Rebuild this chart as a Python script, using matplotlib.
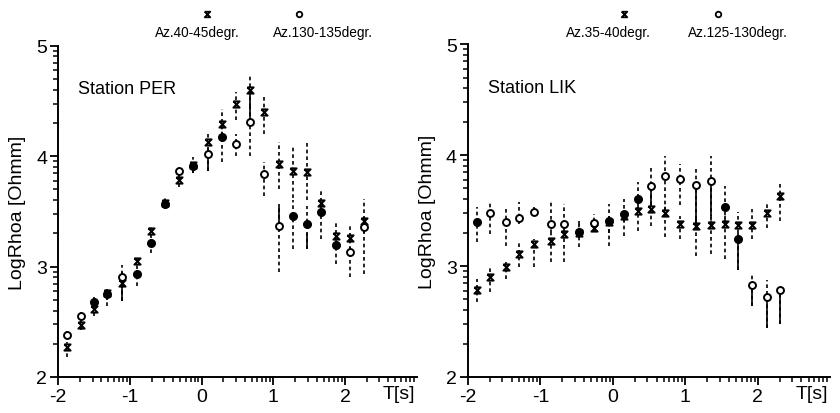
import matplotlib.pyplot as plt
import numpy as np
from matplotlib.path import Path

plt.rcParams['font.family'] = ['Liberation Sans', 'DejaVu Sans']

# --- Station PER ---
per_T = [-1.88, -1.69, -1.50, -1.32, -1.11, -0.90, -0.71, -0.51, -0.31, -0.12, 0.09,
         0.28, 0.48, 0.67, 0.87, 1.08, 1.27, 1.47, 1.66, 1.87, 2.07, 2.26]
# Az.40-45degr. (cross)
per_a = [2.27, 2.47, 2.62, 2.76, 2.85, 3.05, 3.32, 3.58, 3.78, 3.92, 4.13,
         4.29, 4.47, 4.60, 4.40, 3.93, 3.87, 3.86, 3.58, 3.28, 3.26, 3.41]
per_a_lo = [2.18, 2.43, 2.55, 2.64, 2.69, 2.98, 3.26, 3.52, 3.72, 3.85, 4.05,
            4.18, 4.33, 4.45, 4.20, 3.70, 3.62, 3.60, 3.47, 3.18, 3.15, 3.30]
per_a_hi = [2.32, 2.52, 2.68, 2.80, 3.01, 3.10, 3.37, 3.62, 3.84, 3.99, 4.20,
            4.43, 4.58, 4.73, 4.54, 4.13, 4.10, 4.12, 3.70, 3.41, 3.39, 3.61]
# Az.130-135degr. (circle)
per_b = [2.38, 2.555, 2.68, 2.75, 2.905, 2.93, 3.21, 3.57, 3.87, 3.91, 4.02,
         4.17, 4.11, 4.31, 3.84, 3.37, 3.46, 3.39, 3.49, 3.20, 3.13, 3.36]
per_b_lo = [2.34, 2.52, 2.63, 2.70, 2.69, 2.82, 3.12, 3.52, 3.80, 3.85, 3.87,
            3.95, 4.00, 4.00, 3.64, 2.95, 3.16, 3.16, 3.25, 3.02, 2.91, 2.93]
per_b_hi = [2.42, 2.59, 2.72, 2.79, 2.95, 2.97, 3.25, 3.62, 3.92, 3.96, 4.08,
            4.25, 4.20, 4.45, 3.95, 3.55, 3.60, 3.55, 3.55, 3.25, 3.20, 3.45]
per_b_filled = [False, False, True, True, False, True, True, True, False, True, False,
                True, False, False, False, False, True, True, True, True, False, False]
per_solid_idx = [4, 10, 13, 15, 17]
per_solid_lo = [2.69, 3.87, 4.33, 3.39, 3.16]
per_solid_hi = [2.90, 4.00, 4.58, 3.57, 3.30]

# --- Station LIK ---
lik_T = [-1.88, -1.70, -1.48, -1.30, -1.09, -0.86, -0.68, -0.47, -0.26, -0.06, 0.15,
         0.34, 0.53, 0.72, 0.92, 1.14, 1.35, 1.54, 1.73, 1.92, 2.13, 2.31]
# Az.35-40degr. (cross)
lik_a = [2.78, 2.90, 2.99, 3.11, 3.20, 3.23, 3.29, 3.30, 3.34, 3.40, 3.45,
         3.50, 3.51, 3.48, 3.38, 3.36, 3.37, 3.38, 3.37, 3.37, 3.48, 3.63]
lik_a_lo = [2.68, 2.77, 2.88, 2.99, 2.99, 3.04, 3.04, 3.17, 3.31, 3.18, 3.27,
            3.32, 3.36, 3.26, 3.24, 3.09, 3.11, 3.06, 3.30, 3.24, 3.34, 3.41]
lik_a_hi = [2.88, 3.00, 3.05, 3.22, 3.24, 3.30, 3.33, 3.38, 3.38, 3.45, 3.50,
            3.55, 3.56, 3.55, 3.45, 3.42, 3.45, 3.45, 3.49, 3.51, 3.58, 3.77]
# Az.125-130degr. (circle)
lik_b = [3.40, 3.48, 3.40, 3.43, 3.49, 3.38, 3.38, 3.31, 3.39, 3.41, 3.47,
         3.60, 3.72, 3.81, 3.78, 3.73, 3.77, 3.53, 3.24, 2.83, 2.72, 2.78]
lik_b_lo = [3.22, 3.29, 3.18, 3.38, 3.45, 3.30, 3.32, 3.25, 3.34, 3.30, 3.40,
            3.50, 3.55, 3.50, 3.55, 3.36, 3.37, 3.40, 2.96, 2.64, 2.44, 2.48]
lik_b_hi = [3.53, 3.58, 3.53, 3.58, 3.53, 3.58, 3.56, 3.41, 3.47, 3.56, 3.60,
            3.76, 3.89, 3.99, 3.92, 3.90, 3.99, 3.72, 3.30, 2.93, 2.87, 2.80]
lik_b_filled = [True, False, False, False, False, False, False, True, False, True, True,
                True, False, False, False, False, False, True, True, False, False, False]
lik_solid_idx = [11, 12, 15, 16, 18, 19, 20, 21]
lik_solid_lo = [3.50, 3.55, 3.36, 3.45, 2.96, 2.64, 2.44, 2.48]
lik_solid_hi = [3.60, 3.70, 3.73, 3.75, 3.24, 2.80, 2.70, 2.76]

# hourglass-like cross marker used in the original
cross = Path([(-1, 1), (1, 1), (-1, -1), (1, -1), (-1, 1)],
             [Path.MOVETO, Path.LINETO, Path.LINETO, Path.LINETO, Path.LINETO])

fig = plt.figure(figsize=(8.4, 4.14), dpi=100)
ax1 = fig.add_axes([0.0694, 0.087, 0.4268, 0.800])
ax2 = fig.add_axes([0.557, 0.087, 0.4315, 0.804])


def draw_panel(ax, T, a, a_lo, a_hi, b, b_lo, b_hi, b_filled, s_idx, s_lo, s_hi, station):
    T = np.array(T)
    dash = (0, (2.2, 1.8))
    ax.vlines(T, a_lo, a_hi, colors='black', linewidth=1.2, linestyles=dash)
    ax.vlines(T, b_lo, b_hi, colors='black', linewidth=1.2, linestyles=dash)
    ax.vlines(T[s_idx], s_lo, s_hi, colors='black', linewidth=1.2)
    ax.plot(T, a, linestyle='none', marker=cross, ms=4.5, mew=1.4,
            mec='black', mfc='none')
    fill = np.array(b_filled)
    b = np.array(b)
    ax.plot(T[~fill], b[~fill], linestyle='none', marker='o', ms=5, mew=1.4,
            mec='black', mfc='white')
    ax.plot(T[fill], b[fill], linestyle='none', marker='o', ms=5.5, mew=1.0,
            mec='black', mfc='black')

    ax.set_xlim(-2, 3.0)
    ax.set_ylim(2, 5)
    ax.spines['top'].set_visible(False)
    ax.spines['right'].set_visible(False)
    ax.spines['left'].set_linewidth(1.4)
    ax.spines['bottom'].set_linewidth(1.4)
    ax.set_xticks([-2, -1, 0, 1, 2])
    ax.set_xticklabels(['-2', '-1', '0', '1', '2'])
    ax.set_yticks([2, 3, 4, 5])
    minor_x = [d + np.log10(k) for d in range(-2, 3) for k in range(2, 10)]
    minor_y = [d + np.log10(k) for d in range(2, 5) for k in range(2, 10)]
    ax.set_xticks(minor_x, minor=True)
    ax.set_yticks(minor_y, minor=True)
    ax.tick_params(which='major', direction='out', length=6, width=1.3,
                   labelsize=14, pad=2)
    ax.tick_params(which='minor', direction='out', length=3.5, width=1.1)
    ax.set_ylabel('LogRhoa [Ohmm]', fontsize=14, labelpad=7)
    ax.text(0.995, -0.05, 'T[s]', transform=ax.transAxes, ha='right', va='center',
            fontsize=14)
    ax.text(0.055, 0.87, station, transform=ax.transAxes, fontsize=13,
            ha='left', va='center')


draw_panel(ax1, per_T, per_a, per_a_lo, per_a_hi, per_b, per_b_lo, per_b_hi,
           per_b_filled, per_solid_idx, per_solid_lo, per_solid_hi, 'Station PER')
draw_panel(ax2, lik_T, lik_a, lik_a_lo, lik_a_hi, lik_b, lik_b_lo, lik_b_hi,
           lik_b_filled, lik_solid_idx, lik_solid_lo, lik_solid_hi, 'Station LIK')

# legend-like labels above each panel
legend_items = [
    (207, 197, 'Az.40-45degr.', cross),
    (299, 323, 'Az.130-135degr.', 'o'),
    (624, 608, 'Az.35-40degr.', cross),
    (718, 738, 'Az.125-130degr.', 'o'),
]
for mx, tx, label, mk in legend_items:
    fig.text(tx / 840, 1 - 33 / 414, label, ha='center', va='center', fontsize=9.8)
    fig.lines.append(plt.Line2D([mx / 840], [1 - 15 / 414], marker=mk, ms=4,
                                mew=1.3, mec='black', mfc='white', linestyle='none',
                                transform=fig.transFigure, figure=fig))

fig.savefig('out.png', dpi=100)
